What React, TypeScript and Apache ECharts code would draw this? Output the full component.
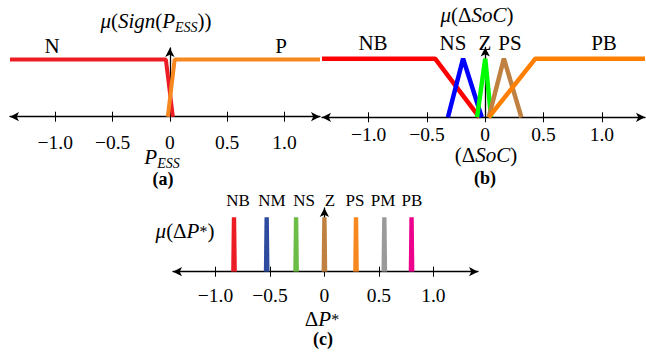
import React, { useEffect, useRef } from 'react';
import * as echarts from 'echarts';

const FF = "'Liberation Serif', 'Times New Roman', serif";

// Tick values and labels shared by the three panels
const tickValues = [-1, -0.5, 0, 0.5, 1];
const tickLabels = ['−1.0', '−0.5', '0', '0.5', '1.0'];

// Panel (a): Sign(P_ESS)
const aNx = [-1.395, -0.035, 0.026];
const aNy = [1, 1, 0];
const aPx = [-0.018, 0.042, 1.31];
const aPy = [0, 1, 1];

// Panel (b): ΔSoC
const bNBx = [-1.4, -0.43, -0.05];
const bNBy = [1, 1, 0];
const bNSx = [-0.32, -0.19, -0.03];
const bNSy = [0, 1, 0];
const bZx = [-0.07, 0, 0.05];
const bZy = [0, 1, 0];
const bPSx = [0.03, 0.16, 0.31];
const bPSy = [0, 1, 0];
const bPBx = [0.03, 0.43, 1.37];
const bPBy = [0, 1, 1];

// Panel (c): ΔP* singleton-like sets
const cNames = ['NB', 'NM', 'NS', 'Z', 'PS', 'PM', 'PB'];
const cCenters = [-0.83, -0.53, -0.26, 0, 0.29, 0.55, 0.8];

const zip = (xs: number[], ys: number[]) => xs.map((x, i) => [x, ys[i]]);

const RICH: any = {
  i: { fontFamily: FF, fontSize: 21, fontStyle: 'italic', lineHeight: 26, fill: '#000' },
  r: { fontFamily: FF, fontSize: 21, lineHeight: 26, fill: '#000' },
  s: { fontFamily: FF, fontSize: 14, fontStyle: 'italic', lineHeight: 14, verticalAlign: 'bottom', fill: '#000' },
  sup: { fontFamily: FF, fontSize: 16, lineHeight: 26, fill: '#000' },
};

function T(x: number, y: number, text: string, size = 21, weight: string = 'normal') {
  return {
    type: 'text',
    x,
    y,
    silent: true,
    style: {
      text,
      align: 'center',
      verticalAlign: 'middle',
      fill: '#000',
      fontFamily: FF,
      fontSize: size,
      fontWeight: weight,
      rich: RICH,
    },
  };
}

export default function App() {
  const ref = useRef<HTMLDivElement>(null);
  useEffect(() => {
    document.body.style.margin = '0';
    const chart = echarts.init(ref.current!, null, { renderer: 'svg' });

    const grids = [
      { left: 10, right: 326, top: 48, bottom: 235.3 },
      { left: 322, right: 1, top: 47.5, bottom: 234.7 },
      { left: 173, right: 168, top: 208, bottom: 80.3 },
    ];
    const xr = [
      [-1.395, 1.31],
      [-1.4, 1.37],
      [-1.39, 1.41],
    ];
    const ymax = [1.2, 1.19, 1.17];
    const margins = [16, 7, 14];

    const xAxis: any[] = [];
    const yAxis: any[] = [];
    grids.forEach((g, gi) => {
      xAxis.push({
        type: 'value',
        gridIndex: gi,
        min: xr[gi][0],
        max: xr[gi][1],
        position: 'bottom',
        axisLine: {
          show: true,
          onZero: false,
          symbol: ['arrow', 'arrow'],
          symbolSize: [7, 9],
          lineStyle: { color: '#000', width: 1.3 },
        },
        axisTick: {
          show: true,
          customValues: tickValues,
          length: 5,
          lineStyle: { color: '#000', width: 1 },
        },
        axisLabel: {
          show: true,
          customValues: tickValues,
          margin: margins[gi],
          color: '#000',
          fontFamily: FF,
          fontSize: 19.5,
          formatter: (v: number) => {
            const k = tickValues.findIndex((t) => Math.abs(t - v) < 1e-9);
            return k >= 0 ? tickLabels[k] : '';
          },
        },
        splitLine: { show: false },
      });
      xAxis.push({
        type: 'value',
        gridIndex: gi,
        min: xr[gi][0],
        max: xr[gi][1],
        position: 'bottom',
        axisLine: { show: false, onZero: false },
        axisTick: {
          show: true,
          inside: true,
          customValues: tickValues,
          length: 5,
          lineStyle: { color: '#000', width: 1 },
        },
        axisLabel: { show: false },
        splitLine: { show: false },
      });
      yAxis.push({
        type: 'value',
        gridIndex: gi,
        min: 0,
        max: ymax[gi],
        axisLine: {
          show: true,
          onZero: true,
          symbol: ['none', 'arrow'],
          symbolSize: [7, 9],
          lineStyle: { color: '#000', width: 1.3 },
        },
        axisTick: { show: false },
        axisLabel: { show: false },
        splitLine: { show: false },
      });
    });

    const lineSeries = (name: string, data: number[][], color: string, gi: number, width = 4) => ({
      type: 'line',
      name,
      xAxisIndex: gi * 2,
      yAxisIndex: gi,
      data,
      showSymbol: false,
      symbol: 'none',
      lineStyle: { color, width },
      silent: true,
    });

    const series: any[] = [
      lineSeries('N', zip(aNx, aNy), '#ec1c24', 0),
      lineSeries('P', zip(aPx, aPy), '#f7871f', 0),
      lineSeries('NB', zip(bNBx, bNBy), '#ff0000', 1, 4.5),
      lineSeries('NS', zip(bNSx, bNSy), '#0000ff', 1, 4.5),
      lineSeries('Z', zip(bZx, bZy), '#00ff00', 1, 4.5),
      lineSeries('PS', zip(bPSx, bPSy), '#bf8040', 1, 4.5),
      lineSeries('PB', zip(bPBx, bPBy), '#ff8000', 1, 4.5),
    ];

    const cColors = ['#ec1c24', '#2e4b9f', '#6bbd45', '#bf8040', '#f7871f', '#9a9a9a', '#ec008c'];
    cCenters.forEach((c, i) => {
      series.push({
        type: 'line',
        name: 'c-' + cNames[i],
        xAxisIndex: 4,
        yAxisIndex: 2,
        data: [
          [c - 0.026, 0],
          [c - 0.02, 1],
          [c + 0.02, 1],
          [c + 0.026, 0],
        ],
        showSymbol: false,
        symbol: 'none',
        lineStyle: { width: 0, color: cColors[i] },
        areaStyle: { color: cColors[i], opacity: 1 },
        silent: true,
      });
    });

    const cLabelX = [238, 272, 304, 330, 355, 383, 412];

    const graphic: any[] = [
      // panel (a)
      T(156, 21, '{i|μ}{r|(}{i|Sign}{r|(}{i|P}{s|ESS}{r|))}'),
      T(52, 46, 'N'),
      T(281, 46, 'P'),
      T(162, 157, '{i|P}{s|ESS}'),
      T(163, 179, '(a)', 18, 'bold'),
      // panel (b)
      T(477, 15, '{i|μ}{r|(Δ}{i|SoC}{r|)}'),
      T(373, 43, 'NB'),
      T(453, 43, 'NS'),
      T(485, 43, 'Z'),
      T(510, 43, 'PS'),
      T(604, 43, 'PB'),
      T(462, 59.5, '1', 6),
      T(486, 155, '{r|(Δ}{i|SoC}{r|)}'),
      T(485, 178, '(b)', 18, 'bold'),
      // panel (c)
      ...cNames.map((n, i) => T(cLabelX[i], 200, n, 17)),
      T(185, 231, '{i|μ}{r|(Δ}{i|P}{sup|*}{r|)}'),
      T(322, 319, '{r|Δ}{i|P}{sup|*}'),
      T(323, 339, '(c)', 18, 'bold'),
    ];

    chart.setOption({
      animation: false,
      backgroundColor: '#fff',
      grid: grids,
      xAxis,
      yAxis,
      series,
      graphic,
    });
    return () => chart.dispose();
  }, []);
  return <div ref={ref} style={{ width: 646, height: 352 }} />;
}
